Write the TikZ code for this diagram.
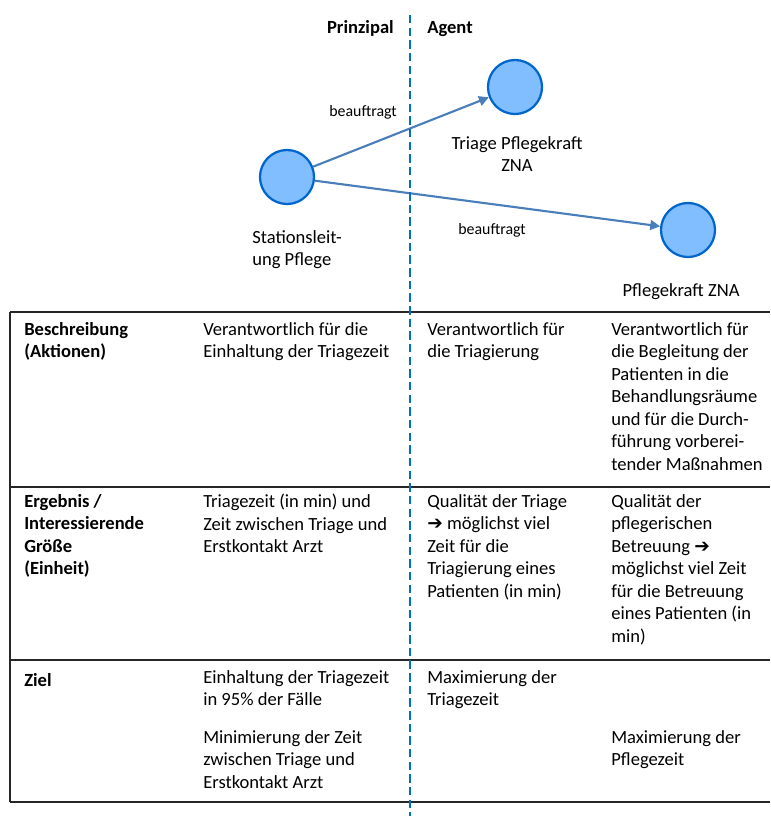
\documentclass[tikz,border=0pt]{standalone}
\usepackage{fontspec}
\setmainfont{Carlito}
\newfontfamily\symfont{DejaVu Sans}
\usetikzlibrary{arrows.meta}
\definecolor{kreisrand}{RGB}{0,102,204}
\definecolor{kreisfill}{RGB}{128,190,255}
\definecolor{pfeilblau}{RGB}{74,126,187}
\definecolor{trennblau}{RGB}{0,112,192}
\tikzset{
  kreis/.style={circle, draw=kreisrand, fill=kreisfill, line width=1.6pt,
    minimum size=1.35cm, inner sep=0pt},
  zelle/.style={anchor=north west, align=left, inner sep=0pt,
    font=\fontsize{13.2}{16}\selectfont, execute at begin node=\strut},
  kopf/.style={zelle, font=\fontsize{13.2}{16}\selectfont\bfseries},
  klein/.style={inner sep=0pt, font=\fontsize{11.3}{13}\selectfont},
  tabline/.style={line width=1.1pt, black!85},
}
\begin{document}
\begin{tikzpicture}[x=0.025cm, y=-0.025cm, line join=round,
        line cap=butt, >={Triangle[length=7pt,width=7pt]}]
        \useasboundingbox (0,0) rectangle (770,816);
        %\draw[gray!20] (0,0) grid[step=50] (770,816);
        
        % Prinzipal / Agent
        \node[kopf, anchor=base east] (prinzipal) at (394,33) {Prinzipal};
        \node[kopf, anchor=base west] (agent) at (427,33) {Agent};
        
        \node[kreis] (SL) at (287,177) {};
        \node[kreis] (TP) at (515,87) {};
        \node[kreis] (PK) at (688,230) {};
        \draw[->, pfeilblau, line width=1.5pt] (SL) -- (TP);
        \draw[->, pfeilblau, line width=1.5pt] (SL) -- (PK);
        \node[klein] (auftrag1) at (363,112) {beauftragt};
        \node[klein] (auftrag2) at (492,230) {beauftragt};
        
        \node[zelle] (SLtext) at (252,230) {Stationsleit-\\ung Pflege};
        \node[zelle, anchor=north, align=center] (TPtext) at (517,136)
            {Triage Pflegekraft\\ZNA};
        \node[zelle, anchor=base] (PKtext) at (681,296) {Pflegekraft ZNA};
        
        % Tabelle
        \draw[tabline] (10,312) -- (770,312);
        \draw[tabline] (10,487) -- (770,487);
        \draw[tabline] (10,660) -- (770,660);
        \draw[tabline] (10,802) -- (770,802);
        \draw[tabline] (10,312) -- (10,802);
        
        \node[kopf] (beschr) at (24,322) {Beschreibung\\(Aktionen)};
        \node[zelle] (beschrP) at (203,322)
            {Verantwortlich für die\\Einhaltung der Triagezeit};
        \node[zelle] (beschrT) at (427,322)
            {Verantwortlich für\\die Triagierung};
        \node[zelle] (beschrK) at (611,322)
            {Verantwortlich für\\die Begleitung der\\Patienten in die\\
             Behandlungsräume\\und für die Durch-\\führung vorberei-\\
             tender Maßnahmen};
        
        \node[kopf] (ergeb) at (24,494)
            {Ergebnis /\\Interessierende\\Größe\\(Einheit)};
        \node[zelle] (ergebP) at (203,494)
            {Triagezeit (in min) und\\Zeit zwischen Triage und\\Erstkontakt Arzt};
        \node[zelle] (ergebT) at (427,494)
            {Qualität der Triage\\{\symfont\bfseries ➔} möglichst viel\\Zeit für die\\
             Triagierung eines\\Patienten (in min)};
        \node[zelle] (ergebK) at (611,494)
            {Qualität der\\pflegerischen\\Betreuung {\symfont\bfseries ➔}\\
             möglichst viel Zeit\\für die Betreuung\\eines Patienten (in\\min)};
        
        \node[kopf] (ziel) at (24,670) {Ziel};
        \node[zelle] (zielP1) at (203,670)
            {Einhaltung der Triagezeit\\in 95\% der Fälle};
        \node[zelle] (zielP2) at (203,730)
            {Minimierung der Zeit\\zwischen Triage und\\Erstkontakt Arzt};
        \node[zelle] (zielT) at (427,670) {Maximierung der\\Triagezeit};
        \node[zelle] (zielK) at (611,730) {Maximierung der\\Pflegezeit};
        
        % Trennlinie
        \draw[trennblau, line width=2pt, dash pattern=on 6pt off 3pt]
            (410,15) -- (410,816);
        
    \end{tikzpicture}
\end{document}
